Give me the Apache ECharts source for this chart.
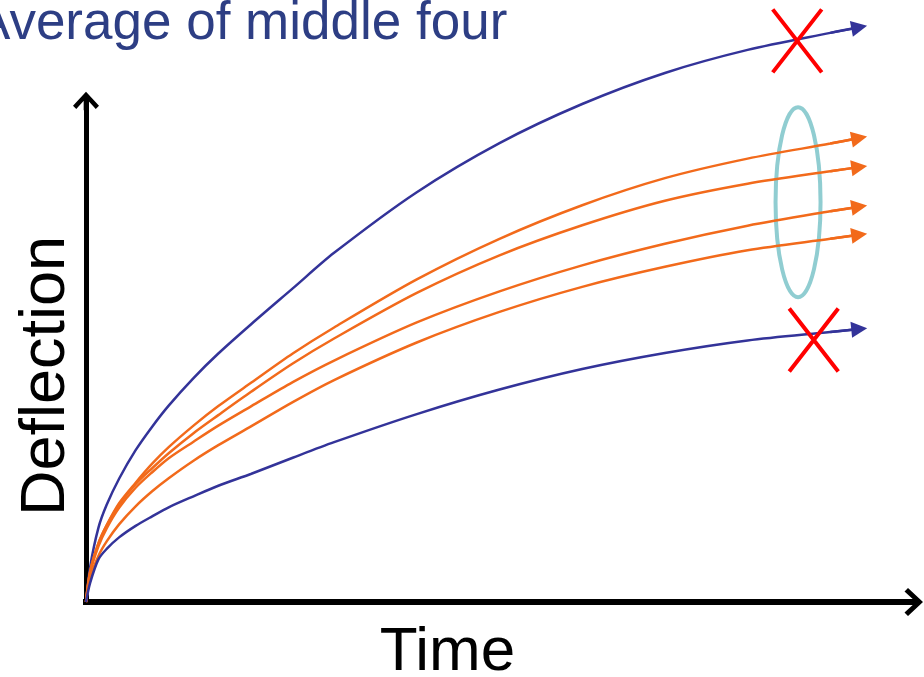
<!DOCTYPE html>
<html>
<head>
<meta charset="utf-8">
<script src="https://cdn.jsdelivr.net/npm/echarts@6/dist/echarts.min.js"></script>
<style>
html, body { margin: 0; padding: 0; background: #fff; }
#deflection { width: 924px; height: 677px; }
</style>
</head>
<body>
<div id="deflection"></div>
<script>
// time steps shared by all six curves
const time = [0, 0.5, 1.5, 2.5, 4, 6, 8, 10, 13, 16, 20, 25, 30, 40, 50, 60, 70, 80, 90, 93.5];
const upperBlue = [0, 7.0, 14.8, 19.4, 24.6, 30.3, 35.0, 39.2, 44.7, 49.6, 55.5, 62.6, 69.7, 81.8, 91.6, 99.4, 105.6, 110.2, 113.6, 114.7];
const orange1 = [0, 6.1, 11.7, 15.3, 19.7, 23.8, 27.6, 30.9, 35.2, 39.1, 43.8, 49.6, 54.8, 64.4, 72.5, 79.2, 84.6, 88.5, 91.5, 92.6];
const orange2 = [0, 6.1, 11.7, 15.3, 19.4, 23.5, 26.7, 29.7, 33.7, 37.3, 42.0, 47.6, 52.6, 61.7, 69.2, 75.2, 80.1, 83.5, 86.0, 86.8];
const orange3 = [0, 5.8, 11.1, 14.7, 18.8, 22.8, 25.9, 28.7, 32.0, 35.2, 39.1, 43.9, 48.2, 55.8, 62.0, 67.2, 71.5, 75.1, 78.0, 78.9];
const orange4 = [0, 4.8, 9.2, 12.1, 15.5, 19.1, 22.1, 24.7, 28.2, 31.3, 35.1, 39.9, 44.3, 51.8, 57.9, 62.9, 66.9, 70.2, 72.5, 73.3];
const lowerBlue = [0, 3.8, 8.5, 10.6, 12.9, 15.2, 17.1, 18.9, 21.1, 23.2, 25.6, 28.8, 31.9, 37.5, 42.4, 46.5, 49.7, 52.2, 53.9, 54.5];
// crossed out outliers, and the circled middle four
const rejectedAt = [[86, 112], [88, 52.3]];
const keptAt = [[86.1, 79.8]];

const blue = '#333399';
const orange = '#f26a1b';
const curves = [
    {data: upperBlue, color: blue},
    {data: orange1, color: orange},
    {data: orange2, color: orange},
    {data: orange3, color: orange},
    {data: orange4, color: orange},
    {data: lowerBlue, color: blue}
];

const chevron = 'path://M14,0L28,15L24.5,18.5L14,7L3.5,18.5L0,15ZM11.5,4L16.5,4L16.5,20L11.5,20Z';
const crossPath = 'path://M0,0L49,63M49,0L0,63';
const ellipsePath = 'path://M22.5,0C34.9,0 45,42.5 45,95C45,147.5 34.9,190 22.5,190C10.1,190 0,147.5 0,95C0,42.5 10.1,0 22.5,0Z';

let series = [{
    type: 'scatter',
    data: keptAt,
    symbol: ellipsePath,
    symbolSize: 190,
    symbolKeepAspect: true,
    itemStyle: {color: 'transparent', borderColor: '#74c1c6', borderWidth: 4},
    silent: true,
    clip: false,
    z: 1
}];

curves.forEach(function (c) {
    let n = time.length;
    series.push({
        type: 'line',
        data: time.map((t, i) => [t, c.data[i]]),
        smooth: 0.3,
        symbol: 'none',
        lineStyle: {color: c.color, width: 2.5},
        silent: true,
        clip: false,
        z: 3
    });
    // arrow head on the last segment
    series.push({
        type: 'lines',
        coordinateSystem: 'cartesian2d',
        data: [{coords: [[time[n - 2], c.data[n - 2]], [time[n - 1], c.data[n - 1]]]}],
        symbol: ['none', 'triangle'],
        symbolSize: 16,
        lineStyle: {color: c.color, width: 2.5, opacity: 1},
        silent: true,
        clip: false,
        z: 3
    });
});

series.push({
    type: 'scatter',
    data: rejectedAt,
    symbol: crossPath,
    symbolSize: 63,
    symbolKeepAspect: true,
    itemStyle: {color: 'transparent', borderColor: '#ff0000', borderWidth: 4, opacity: 1},
    silent: true,
    clip: false,
    z: 4
});

let myChart = echarts.init(document.getElementById('deflection'));
let option = {
    animation: false,
    backgroundColor: '#fff',
    title: {
        text: 'Average of middle four',
        left: -25,
        top: -2,
        padding: 0,
        textStyle: {fontSize: 53, fontWeight: 'normal', color: '#2d3e84', fontFamily: 'Liberation Sans'}
    },
    grid: {left: 86, right: 11, top: 101, bottom: 75, outerBoundsMode: 'none'},
    xAxis: {
        type: 'value',
        min: 0,
        max: 100,
        name: 'Time',
        nameLocation: 'middle',
        nameGap: 20,
        nameTextStyle: {fontSize: 62, color: '#000', fontFamily: 'Liberation Sans', padding: [0, 104, 0, 0]},
        axisLine: {
            show: true,
            symbol: ['none', chevron],
            symbolSize: [28, 20],
            lineStyle: {color: '#000', width: 6, cap: 'square'}
        },
        axisTick: {show: false},
        axisLabel: {show: false},
        splitLine: {show: false}
    },
    yAxis: {
        type: 'value',
        min: 0,
        max: 100,
        name: 'Deflection',
        nameLocation: 'middle',
        nameRotate: 90,
        nameGap: 8,
        nameTextStyle: {fontSize: 63, color: '#000', fontFamily: 'Liberation Sans', padding: [0, 49, 0, 0]},
        axisLine: {
            show: true,
            symbol: ['none', chevron],
            symbolSize: [26, 19],
            lineStyle: {color: '#000', width: 5, cap: 'square'}
        },
        axisTick: {show: false},
        axisLabel: {show: false},
        splitLine: {show: false}
    },
    series: series
};
myChart.setOption(option);
</script>
</body>
</html>
